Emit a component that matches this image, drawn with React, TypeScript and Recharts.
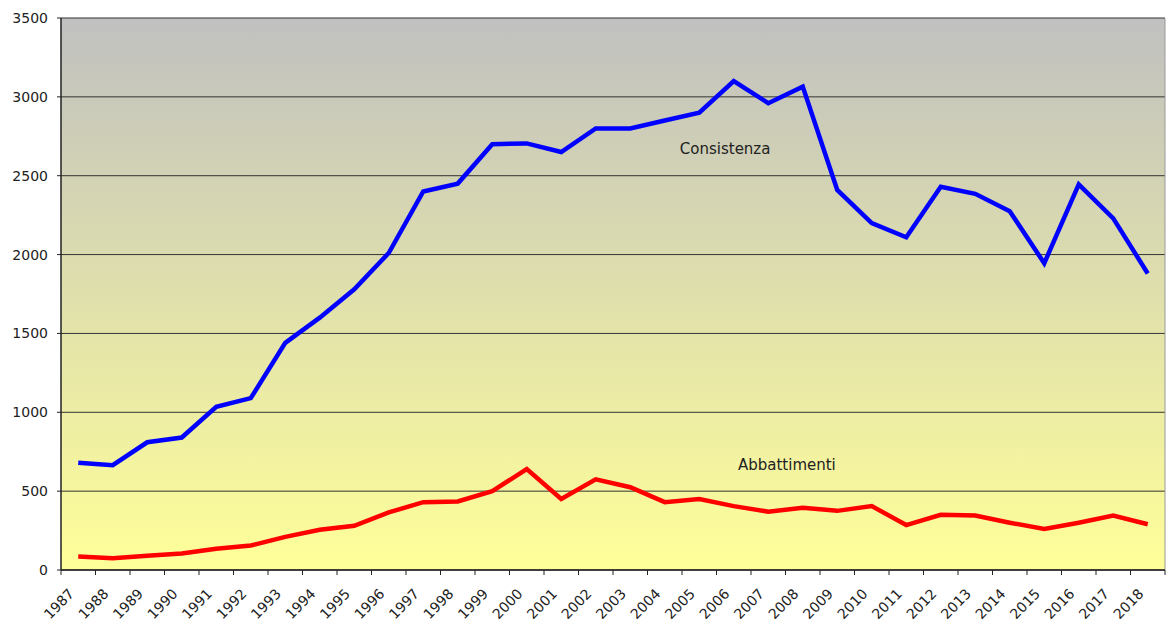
import React from 'react';
import { LineChart, Line, XAxis, YAxis, CartesianGrid, ReferenceLine, ReferenceDot } from 'recharts';

const years = [
  '1987', '1988', '1989', '1990', '1991', '1992', '1993', '1994', '1995', '1996', '1997',
  '1998', '1999', '2000', '2001', '2002', '2003', '2004', '2005', '2006', '2007', '2008',
  '2009', '2010', '2011', '2012', '2013', '2014', '2015', '2016', '2017', '2018',
];

const consistenza = [
  680, 665, 810, 840, 1035, 1090, 1440, 1600, 1780, 2010, 2400,
  2450, 2700, 2705, 2650, 2800, 2800, 2850, 2900, 3100, 2960, 3065,
  2410, 2200, 2110, 2430, 2385, 2275, 1945, 2445, 2230, 1880,
];

const abbattimenti = [
  85, 75, 90, 105, 135, 155, 210, 255, 280, 365, 430,
  435, 500, 640, 450, 575, 525, 430, 450, 405, 370, 395,
  375, 405, 285, 350, 345, 300, 260, 300, 345, 290,
];

const yTicks = [0, 500, 1000, 1500, 2000, 2500, 3000, 3500];

// x runs over category slots: point i sits in the middle of slot [i, i+1]
const data = years.map((year, i) => ({
  pos: i + 0.5,
  year,
  consistenza: consistenza[i],
  abbattimenti: abbattimenti[i],
}));
const edgeTicks = Array.from({ length: years.length + 1 }, (_, i) => i);

const W = 1169;
const H = 628;
const LEFT = 61;
const RIGHT = 4;
const STEP = (W - LEFT - RIGHT) / years.length;
const FONT = '"DejaVu Sans", Verdana, sans-serif';

const EdgeTick = (props: any) => {
  const { x, y, payload } = props;
  const i = payload.value as number;
  const label = years[i];
  const lx = x + STEP / 2 - 7;
  const ly = y + 21;
  return (
    <g>
      <line x1={x} y1={y} x2={x} y2={y + 5} stroke="#222" strokeWidth={1} />
      {label && (
        <text
          x={lx}
          y={ly}
          textAnchor="end"
          dominantBaseline="central"
          transform={`rotate(-46 ${lx} ${ly})`}
          fontSize={14}
          fontFamily={FONT}
          fill="#222"
        >
          {label}
        </text>
      )}
    </g>
  );
};

export default function App() {
  return (
    <div style={{ position: 'absolute', left: 0, top: 0, width: W, height: H, background: '#fff' }}>
      <LineChart width={W} height={H} data={data} margin={{ top: 18, right: RIGHT, bottom: 0, left: 0 }}>
        <defs>
          <linearGradient id="bg" x1="0" y1="0" x2="0" y2="1">
            <stop offset="0%" stopColor="#c0c0c0" />
            <stop offset="100%" stopColor="#ffff99" />
          </linearGradient>
        </defs>
        <CartesianGrid vertical={false} stroke="#333" fill="url(#bg)" fillOpacity={1} />
        <XAxis
          type="number"
          dataKey="pos"
          domain={[0, years.length]}
          ticks={edgeTicks}
          interval={0}
          height={H - 18 - 552}
          tickSize={0}
          tickMargin={0}
          tickLine={false}
          tick={<EdgeTick />}
          axisLine={{ stroke: '#222', strokeWidth: 1.5 }}
        />
        <YAxis
          domain={[0, 3500]}
          ticks={yTicks}
          interval={0}
          width={LEFT}
          tickSize={4}
          tickMargin={9}
          tickLine={{ stroke: '#222' }}
          axisLine={{ stroke: '#222', strokeWidth: 1.5 }}
          tick={{ fontSize: 14, fontFamily: FONT, fill: '#222' }}
        />
        <ReferenceLine x={years.length} stroke="#999" />
        <Line
          type="linear"
          dataKey="consistenza"
          stroke="#0000ff"
          strokeWidth={4.5}
          dot={false}
          isAnimationActive={false}
        />
        <Line
          type="linear"
          dataKey="abbattimenti"
          stroke="#ff0000"
          strokeWidth={4.5}
          dot={false}
          isAnimationActive={false}
        />
        <ReferenceDot
          x={19.25}
          y={2670}
          r={0}
          label={{ value: 'Consistenza', position: 'center', fontSize: 15, fontFamily: FONT, fill: '#222' }}
        />
        <ReferenceDot
          x={21.04}
          y={666}
          r={0}
          label={{ value: 'Abbattimenti', position: 'center', fontSize: 15, fontFamily: FONT, fill: '#222' }}
        />
      </LineChart>
    </div>
  );
}
